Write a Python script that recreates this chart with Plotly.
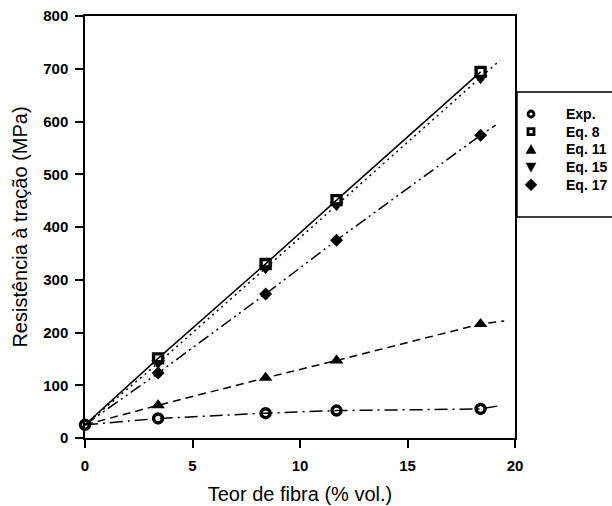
import plotly.graph_objects as go

# ---- data ----
fiber = [3.4, 8.4, 11.7, 18.4]            # fibre content (% vol.)
matrix_x = 0.0
matrix_strength = 25                      # strength of matrix (0 % fibre)

exp_vals = [37, 47, 52, 55]
eq8_vals = [151, 330, 451, 694]
eq11_vals = [62, 114, 147, 216]
eq15_vals = [142, 322, 441, 682]
eq17_vals = [123, 273, 375, 574]

# end points of the trend lines beyond the last marker
exp_end = (19.4, 62)
eq11_end = (19.5, 222)
eq15_end = (19.3, 716)
eq17_end = (19.1, 593)

series_names = ["Exp.", "Eq. 8", "Eq. 11", "Eq. 15", "Eq. 17"]
x_ticks = [0, 5, 10, 15, 20]
y_ticks = [0, 100, 200, 300, 400, 500, 600, 700, 800]

FONT = "Arial, Liberation Sans, sans-serif"

# plot-area geometry in pixels
FIG_W, FIG_H = 612, 506
ML, MR, MT, MB = 85, 97, 16, 68
PW, PH = FIG_W - ML - MR, FIG_H - MT - MB

def px_x(px):
    return (px - ML) / PW

def px_y(py):
    return (FIG_H - MB - py) / PH

fig = go.Figure()

def add_line(vals, end, dash):
    xs = [matrix_x] + fiber + ([end[0]] if end else [])
    ys = [matrix_strength] + vals + ([end[1]] if end else [])
    fig.add_trace(go.Scatter(x=xs, y=ys, mode="lines",
                             line=dict(color="black", width=1.5, dash=dash),
                             showlegend=False, hoverinfo="skip"))

add_line(eq8_vals, None, "solid")
add_line(eq15_vals, eq15_end, "2px,4px")
add_line(eq17_vals, eq17_end, "12px,4px,2px,4px,2px,4px")
add_line(eq11_vals, eq11_end, "8px,5px")
add_line(exp_vals, exp_end, "13px,5px,2px,5px")

marker_specs = [
    ([matrix_x] + fiber, [matrix_strength] + exp_vals,
     dict(symbol="circle-open", size=9, color="black", line=dict(width=3.4, color="black"))),
    (fiber, eq8_vals,
     dict(symbol="square-open", size=9, color="black", line=dict(width=3.4, color="black"))),
    (fiber, eq11_vals,
     dict(symbol="triangle-up", size=12, color="black", line=dict(width=0))),
    (fiber, eq15_vals,
     dict(symbol="triangle-down", size=12, color="black", line=dict(width=0))),
    (fiber, eq17_vals,
     dict(symbol="diamond", size=10, color="black", line=dict(width=0))),
]
for (xs, ys, mk), name in zip(marker_specs, series_names):
    fig.add_trace(go.Scatter(x=xs, y=ys, mode="markers", name=name, marker=mk,
                             cliponaxis=False, showlegend=False))

axis_common = dict(
    showgrid=False, zeroline=False, showline=True, linecolor="black", linewidth=1.5,
    mirror=True, ticks="outside", ticklen=8, tickwidth=1.5, tickcolor="black",
    automargin=False,
    tickfont=dict(family=FONT, size=15, color="black", weight="bold"),
)

# ---- hand-drawn legend (box, keys, labels) ----
LEG_SYM_X, LEG_TXT_X = 531, 564
LEG_ROW0, LEG_DY = 114, 17.7
legend_paths = [
    None,                                   # circle (drawn as circle shape)
    None,                                   # square (drawn as rect shape)
    "M -5,-4 L 5,-4 L 0,5 Z",               # triangle up
    "M -5,4 L 5,4 L 0,-5 Z",                # triangle down
    "M 0,-6 L 6,0 L 0,6 L -6,0 Z",          # diamond
]
shapes = [dict(type="rect", xref="paper", yref="paper",
               x0=px_x(517), x1=px_x(660), y0=px_y(217), y1=px_y(92),
               line=dict(color="black", width=1.5), fillcolor="white", layer="below")]
annotations = []
for i, name in enumerate(series_names):
    cy = LEG_ROW0 + i * LEG_DY
    base = dict(xref="paper", yref="paper", xsizemode="pixel", ysizemode="pixel",
                xanchor=px_x(LEG_SYM_X), yanchor=px_y(cy))
    if i == 0:
        shapes.append(dict(type="circle", x0=-3, x1=3, y0=-3, y1=3,
                           line=dict(color="black", width=2.8), fillcolor="white", **base))
    elif i == 1:
        shapes.append(dict(type="rect", x0=-3, x1=3, y0=-3, y1=3,
                           line=dict(color="black", width=2.8), fillcolor="white", **base))
    else:
        shapes.append(dict(type="path", path=legend_paths[i],
                           line=dict(color="black", width=0.5), fillcolor="black", **base))
    annotations.append(dict(xref="paper", yref="paper", x=px_x(LEG_TXT_X), y=px_y(cy),
                            xanchor="left", yanchor="middle", showarrow=False, text=name,
                            font=dict(family=FONT, size=14, color="black", weight="bold")))

fig.update_layout(
    width=FIG_W, height=FIG_H,
    margin=dict(l=ML, r=MR, t=MT, b=MB),
    paper_bgcolor="white", plot_bgcolor="white",
    showlegend=False,
    xaxis=dict(range=[0, 20], tickvals=x_ticks, ticklabelstandoff=5,
               title=dict(text="Teor de fibra (% vol.)", standoff=14,
                          font=dict(family=FONT, size=20, color="black")),
               **axis_common),
    yaxis=dict(range=[0, 800], tickvals=y_ticks, ticklabelstandoff=4,
               title=dict(text="Resistência à tração (MPa)", standoff=10,
                          font=dict(family=FONT, size=20, color="black")),
               **axis_common),
    shapes=shapes,
    annotations=annotations,
)

fig.write_html("out.html",
               config={"displayModeBar": False},
               post_script="document.body.style.margin='0';document.body.style.overflow='hidden';")
